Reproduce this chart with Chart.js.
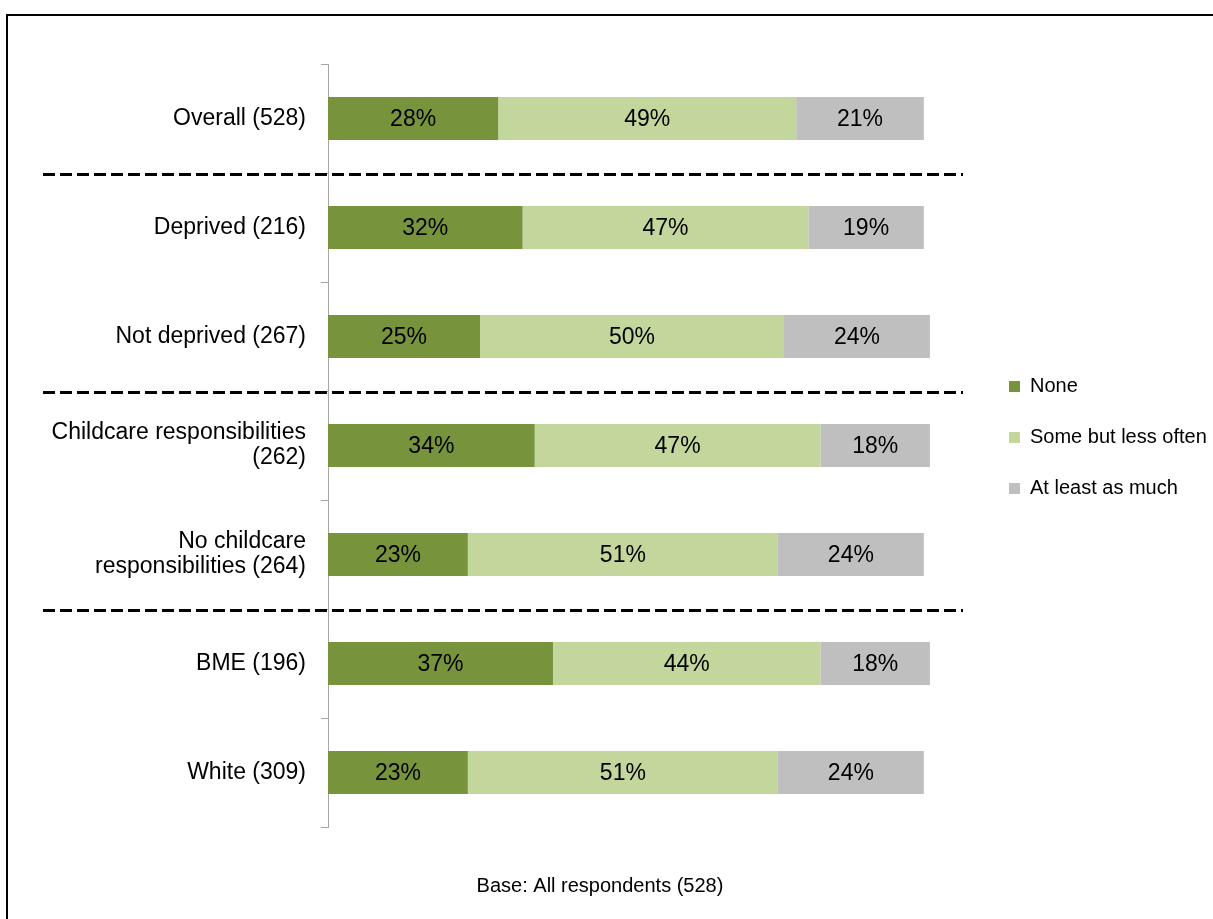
<!DOCTYPE html>
<html>
<head>
<meta charset="utf-8">
<script src="https://cdn.jsdelivr.net/npm/chart.js@4/dist/chart.umd.min.js"></script>
<style>
  html, body { margin: 0; padding: 0; background: #fff; }
  #wrap { position: relative; width: 1213px; height: 919px; overflow: hidden; }
  #frame { position: absolute; left: 6px; top: 14px; width: 1400px; height: 1200px; border: 2px solid #000; box-sizing: border-box; }
  canvas { position: absolute; left: 0; top: 0; }
</style>
</head>
<body>
<div id="wrap">
  <div id="frame"></div>
  <canvas id="c" width="1213" height="919"></canvas>
</div>
<script>
const categories = [
  "Overall (528)",
  "Deprived (216)",
  "Not deprived (267)",
  ["Childcare responsibilities", "(262)"],
  ["No childcare", "responsibilities (264)"],
  "BME (196)",
  "White (309)"
];
const seriesNames = ["None", "Some but less often", "At least as much"];
const noneValues = [28, 32, 25, 34, 23, 37, 23];
const someValues = [49, 47, 50, 47, 51, 44, 51];
const atLeastValues = [21, 19, 24, 18, 24, 18, 24];
const separatorsAfter = [0, 2, 4];
const footnote = "Base: All respondents (528)";

const FONT = "'Liberation Sans', Arial, sans-serif";

const dataLabelPlugin = {
  id: 'dataLabels',
  afterDatasetsDraw(chart) {
    const ctx = chart.ctx;
    ctx.save();
    ctx.font = "23px " + FONT;
    ctx.fillStyle = "#000";
    ctx.textAlign = "center";
    ctx.textBaseline = "middle";
    chart.data.datasets.forEach((ds, di) => {
      const meta = chart.getDatasetMeta(di);
      meta.data.forEach((bar, i) => {
        const v = ds.data[i];
        const cx = (bar.x + bar.base) / 2;
        ctx.fillText(v + "%", cx, bar.y + 1);
      });
    });
    ctx.restore();
  }
};

const separatorPlugin = {
  id: 'separators',
  afterDraw(chart) {
    const ctx = chart.ctx;
    const y = chart.scales.y;
    ctx.save();
    ctx.strokeStyle = "#000";
    ctx.lineWidth = 3;
    ctx.setLineDash([12, 5]);
    separatorsAfter.forEach(idx => {
      const py = Math.round(y.getPixelForValue(idx + 0.5)) + 1.5;
      ctx.beginPath();
      ctx.moveTo(43, py);
      ctx.lineTo(963, py);
      ctx.stroke();
    });
    ctx.restore();
  }
};

const footnotePlugin = {
  id: 'footnote',
  afterDraw(chart) {
    const ctx = chart.ctx;
    ctx.save();
    ctx.font = "20px " + FONT;
    ctx.fillStyle = "#000";
    ctx.textAlign = "center";
    ctx.textBaseline = "middle";
    ctx.fillText(footnote, 600, 886);
    ctx.restore();
  }
};

new Chart(document.getElementById('c'), {
  type: 'bar',
  data: {
    labels: categories,
    datasets: [
      { label: seriesNames[0], data: noneValues, backgroundColor: '#77933C' },
      { label: seriesNames[1], data: someValues, backgroundColor: '#C3D69B' },
      { label: seriesNames[2], data: atLeastValues, backgroundColor: '#BFBFBF' }
    ]
  },
  options: {
    indexAxis: 'y',
    responsive: false,
    animation: false,
    devicePixelRatio: 1,
    layout: { padding: { top: 48, bottom: 92, left: 0, right: 0 } },
    datasets: { bar: { categoryPercentage: 1, barPercentage: 0.395 } },
    scales: {
      x: {
        stacked: true, min: 0, max: 100, position: 'top',
        display: true,
        grid: { display: false },
        border: { display: false },
        ticks: { display: false },
        afterFit(s) { s.height = 16; }
      },
      y: {
        stacked: true,
        grid: { display: true, drawOnChartArea: false, drawTicks: true, tickLength: 7, color: '#A6A6A6', offset: true },
        border: { display: true, color: '#A6A6A6', width: 1 },
        ticks: { font: { family: FONT, size: 23, lineHeight: 1.1 }, color: '#000', padding: 15, autoSkip: false },
        afterFit(s) { s.width = 328; }
      },
      gap: {
        type: 'linear', axis: 'y', position: 'right', display: true,
        grid: { display: false }, border: { display: false }, ticks: { display: false },
        afterFit(s) { s.width = 42; }
      }
    },
    plugins: {
      legend: {
        position: 'right',
        maxWidth: 235,
        labels: {
          boxWidth: 11, boxHeight: 11, padding: 31,
          font: { family: FONT, size: 20 }, color: '#000'
        }
      },
      tooltip: { enabled: false }
    }
  },
  plugins: [dataLabelPlugin, separatorPlugin, footnotePlugin]
});
</script>
</body>
</html>
